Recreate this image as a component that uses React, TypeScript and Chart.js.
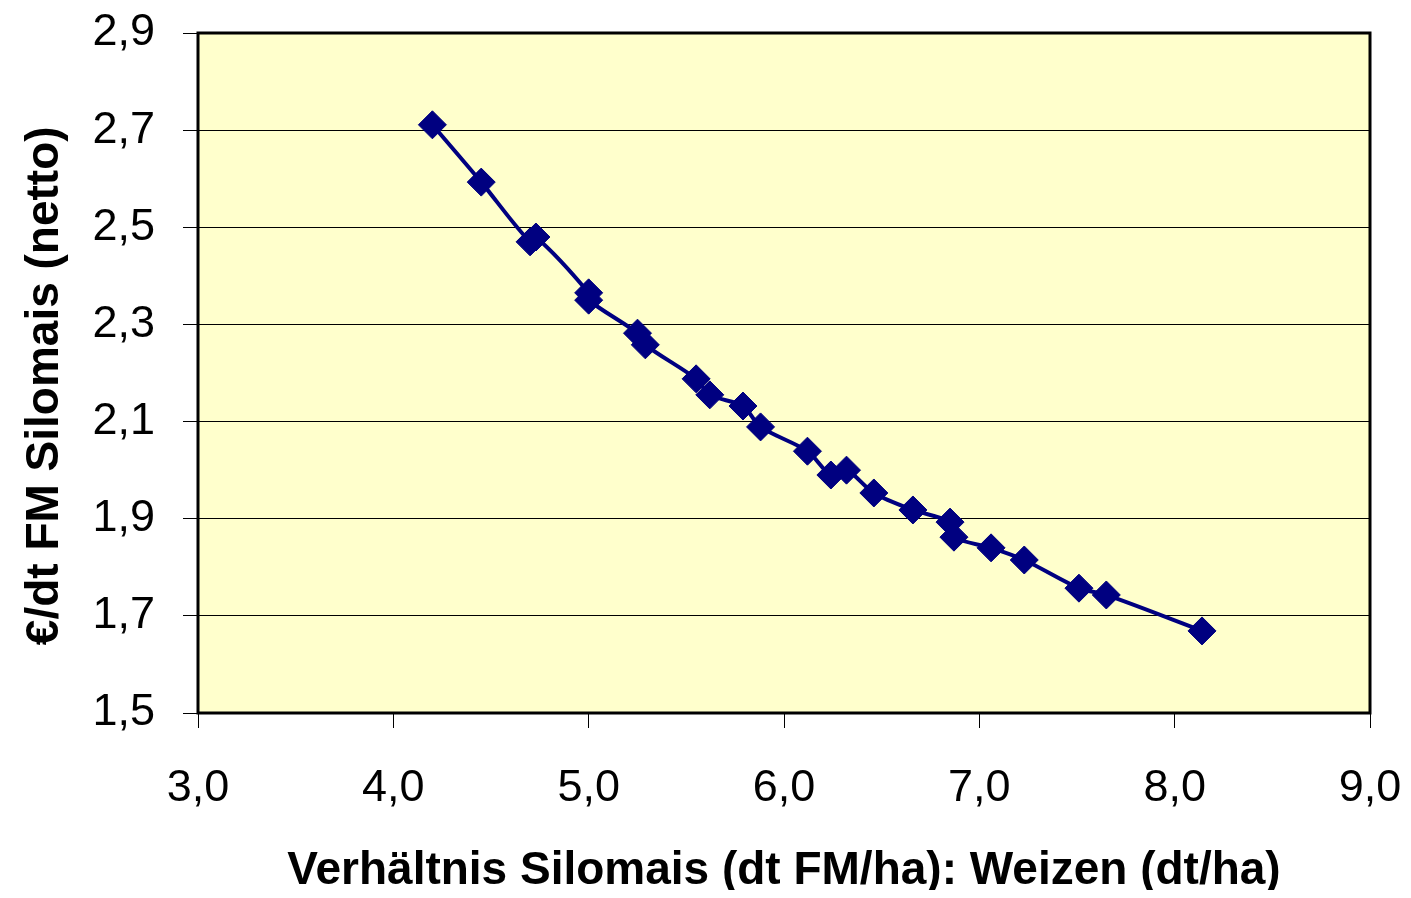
import React, { useEffect, useRef } from 'react';
import { Chart, registerables } from 'chart.js';

Chart.register(...registerables);

// Verhältnis Silomais (dt FM/ha) : Weizen (dt/ha)
const xValues = [4.20, 4.45, 4.70, 4.73, 5.00, 5.00, 5.25, 5.29, 5.55, 5.62, 5.79, 5.88, 6.12, 6.24, 6.32, 6.46, 6.66, 6.85, 6.87, 7.06, 7.23, 7.51, 7.65, 8.14];
// €/dt FM Silomais (netto)
const yValues = [2.711, 2.593, 2.470, 2.480, 2.365, 2.350, 2.282, 2.258, 2.188, 2.155, 2.132, 2.089, 2.039, 1.990, 2.000, 1.953, 1.918, 1.893, 1.862, 1.840, 1.815, 1.757, 1.743, 1.669];

const xTicks = [3, 4, 5, 6, 7, 8, 9];
const yTicks = [1.5, 1.7, 1.9, 2.1, 2.3, 2.5, 2.7, 2.9];

const xTitle = 'Verhältnis Silomais (dt FM/ha): Weizen (dt/ha)';
const yTitle = '€/dt FM Silomais (netto)  ';

const FONT = "'Liberation Sans', Arial, Helvetica, sans-serif";

const fmt = (v: number) => v.toFixed(1).replace('.', ',');

const plotPlugin = {
  id: 'plotFrame',
  beforeDraw(chart: any) {
    const { ctx, chartArea } = chart;
    const { left, top, right, bottom } = chartArea;
    ctx.save();
    ctx.fillStyle = '#FFFFCC';
    ctx.fillRect(left, top, right - left, bottom - top);
    ctx.restore();
  },
  afterDraw(chart: any) {
    const { ctx, chartArea } = chart;
    const { left, top, right, bottom } = chartArea;
    ctx.save();
    ctx.strokeStyle = '#000000';
    ctx.lineWidth = 3;
    ctx.strokeRect(left, top, right - left, bottom - top);
    ctx.restore();
  },
};

export default function App() {
  const canvasRef = useRef<HTMLCanvasElement | null>(null);

  useEffect(() => {
    if (!canvasRef.current) return;
    const data = xValues.map((x, i) => ({ x, y: yValues[i] }));
    const chart = new Chart(canvasRef.current, {
      type: 'scatter',
      data: {
        datasets: [
          {
            data,
            showLine: true,
            tension: 0.3,
            borderColor: '#000080',
            borderWidth: 4,
            backgroundColor: '#000080',
            pointStyle: 'rectRot',
            pointRadius: 14,
            pointBorderWidth: 1,
            pointBorderColor: '#000080',
            pointBackgroundColor: '#000080',
          },
        ],
      },
      options: {
        animation: false,
        responsive: true,
        maintainAspectRatio: false,
        layout: { padding: { top: 25, right: 33, bottom: 0, left: 0 } },
        plugins: { legend: { display: false }, tooltip: { enabled: false } },
        scales: {
          x: {
            type: 'linear',
            min: 3,
            max: 9,
            afterBuildTicks: (scale: any) => {
              scale.ticks = xTicks.map((v) => ({ value: v }));
            },
            afterFit: (scale: any) => {
              scale.height = 177;
              scale.paddingLeft = 0;
              scale.paddingRight = 0;
              scale.paddingTop = 0;
              scale.paddingBottom = 0;
            },
            grid: {
              drawOnChartArea: false,
              drawTicks: true,
              tickLength: 15,
              color: '#000000',
              lineWidth: 1,
            },
            border: { display: false },
            ticks: {
              color: '#000000',
              padding: 38,
              maxRotation: 0,
              font: { family: FONT, size: 45, lineHeight: 1 },
              callback: (v: any) => fmt(Number(v)),
            },
            title: {
              display: true,
              text: xTitle,
              color: '#000000',
              padding: { top: 0, bottom: 0 },
              font: { family: FONT, size: 46, weight: 'bold', lineHeight: 0.8 },
            },
          },
          y: {
            type: 'linear',
            min: 1.5,
            max: 2.9,
            afterBuildTicks: (scale: any) => {
              scale.ticks = yTicks.map((v) => ({ value: v }));
            },
            afterFit: (scale: any) => {
              scale.width = 190;
              scale.paddingLeft = 0;
              scale.paddingRight = 0;
              scale.paddingTop = 0;
              scale.paddingBottom = 0;
            },
            grid: {
              drawOnChartArea: true,
              drawTicks: true,
              tickLength: 15,
              color: '#000000',
              lineWidth: 1,
            },
            border: { display: false },
            ticks: {
              color: '#000000',
              padding: 28,
              font: { family: FONT, size: 45, lineHeight: 1 },
              callback: (v: any) => fmt(Number(v)),
            },
            title: {
              display: true,
              text: yTitle,
              color: '#000000',
              padding: { top: 19, bottom: 0 },
              font: { family: FONT, size: 46, weight: 'bold', lineHeight: 0.8 },
            },
          },
        },
      },
      plugins: [plotPlugin],
    });
    return () => chart.destroy();
  }, []);

  return (
    <div style={{ position: 'relative', width: '100%', height: 882 }}>
      <canvas ref={canvasRef} />
    </div>
  );
}
